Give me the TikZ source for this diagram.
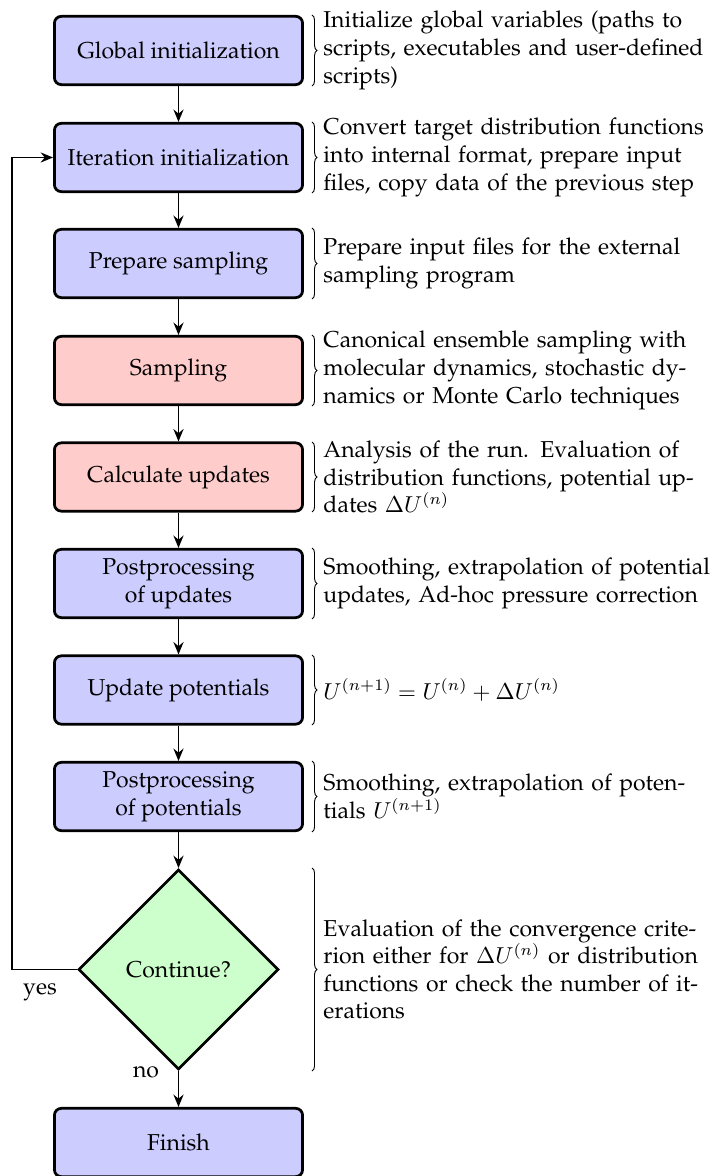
\documentclass[tikz,border=0pt]{standalone}
\usepackage[T1]{fontenc}
\usepackage{palatino}
\usetikzlibrary{shapes.geometric,arrows.meta,decorations.pathreplacing,calc}
\begin{document}
\begin{tikzpicture}[x=0.4348pt,y=-0.4348pt,
  box/.style={draw, very thick, rounded corners=3pt, minimum width=107.9pt, minimum height=29.7pt, align=center, inner sep=2pt},
  bluebox/.style={box, fill=blue!20},
  redbox/.style={box, fill=red!20},
  decision/.style={draw, very thick, diamond, aspect=1, fill=green!20, minimum width=87pt, minimum height=87pt, inner sep=1pt},
  flow/.style={thick, -{Stealth[length=5.4pt,width=4.4pt,inset=1.8pt]}},
  loopline/.style={semithick, -{Stealth[length=5.4pt,width=4.4pt,inset=1.8pt]}},
  brc/.style={decorate, decoration={brace, amplitude=2.2pt}},
  desc/.style={anchor=west, inner sep=0pt, text width=6cm, align=left},
  lbl/.style={inner sep=0pt}
]
\useasboundingbox (0,0) rectangle (723,1176);

\node[bluebox] (g) at (178.5,50.5) {Global initialization};
\node[bluebox] (it) at (178.5,157.5) {Iteration initialization};
\node[bluebox] (ps) at (178.5,263.5) {Prepare sampling};
\node[redbox] (s) at (178.5,370.5) {Sampling};
\node[redbox] (cu) at (178.5,477) {Calculate updates};
\node[bluebox] (pu) at (178.5,583.5) {Postprocessing\\of updates};
\node[bluebox] (up) at (178.5,690) {Update potentials};
\node[bluebox] (pp) at (178.5,796.5) {Postprocessing\\of potentials};
\node[decision] (c) at (178.5,969.5) {Continue?};
\node[bluebox] (f) at (178.5,1142.5) {Finish};

\draw[flow] (g) -- (it);
\draw[flow] (it) -- (ps);
\draw[flow] (ps) -- (s);
\draw[flow] (s) -- (cu);
\draw[flow] (cu) -- (pu);
\draw[flow] (pu) -- (up);
\draw[flow] (up) -- (pp);
\draw[flow] (pp) -- (c);
\draw[flow] (c) -- (f);

\coordinate (lc) at (12,969.5);
\draw[loopline] (c.west) -- (lc) |- (it.west);
\node[lbl] (yes) at (40,992) {yes};
\node[lbl] (no) at (146,1072) {no};

% braces
\draw[brc] (312,15) -- (312,86);
\draw[brc] (312,122) -- (312,193);
\draw[brc] (312,228) -- (312,299);
\draw[brc] (312,335) -- (312,406);
\draw[brc] (312,442) -- (312,512);
\draw[brc] (312,548) -- (312,619);
\draw[brc] (312,655) -- (312,725);
\draw[brc] (312,761) -- (312,832);
\draw[brc] (312,868) -- (312,1071);

\node[desc] (d1) at (323,50.5) {Initialize global variables (paths to scripts, executables and user-defined scripts)};
\node[desc] (d2) at (323,157.5) {Convert target distribution functions into internal format, prepare input files, copy data of the previous step};
\node[desc] (d3) at (323,263.5) {Prepare input files for the external sampling program};
\node[desc] (d4) at (323,370.5) {Canonical ensemble sampling with molecular dynamics, stochastic dynamics or Monte Carlo techniques};
\node[desc] (d5) at (323,477) {Analysis of the run. Evaluation of distribution functions, potential updates $\Delta U^{(n)}$};
\node[desc] (d6) at (323,583.5) {Smoothing, extrapolation of potential updates, Ad-hoc pressure correction};
\node[desc] (d7) at (323,690) {$U^{(n+1)} = U^{(n)} + \Delta U^{(n)}$};
\node[desc] (d8) at (323,796.5) {Smoothing, extrapolation of potentials $U^{(n+1)}$};
\node[desc] (d9) at (323,969.5) {Evaluation of the convergence criterion either for $\Delta U^{(n)}$ or distribution functions or check the number of iterations};
\end{tikzpicture}
\end{document}
